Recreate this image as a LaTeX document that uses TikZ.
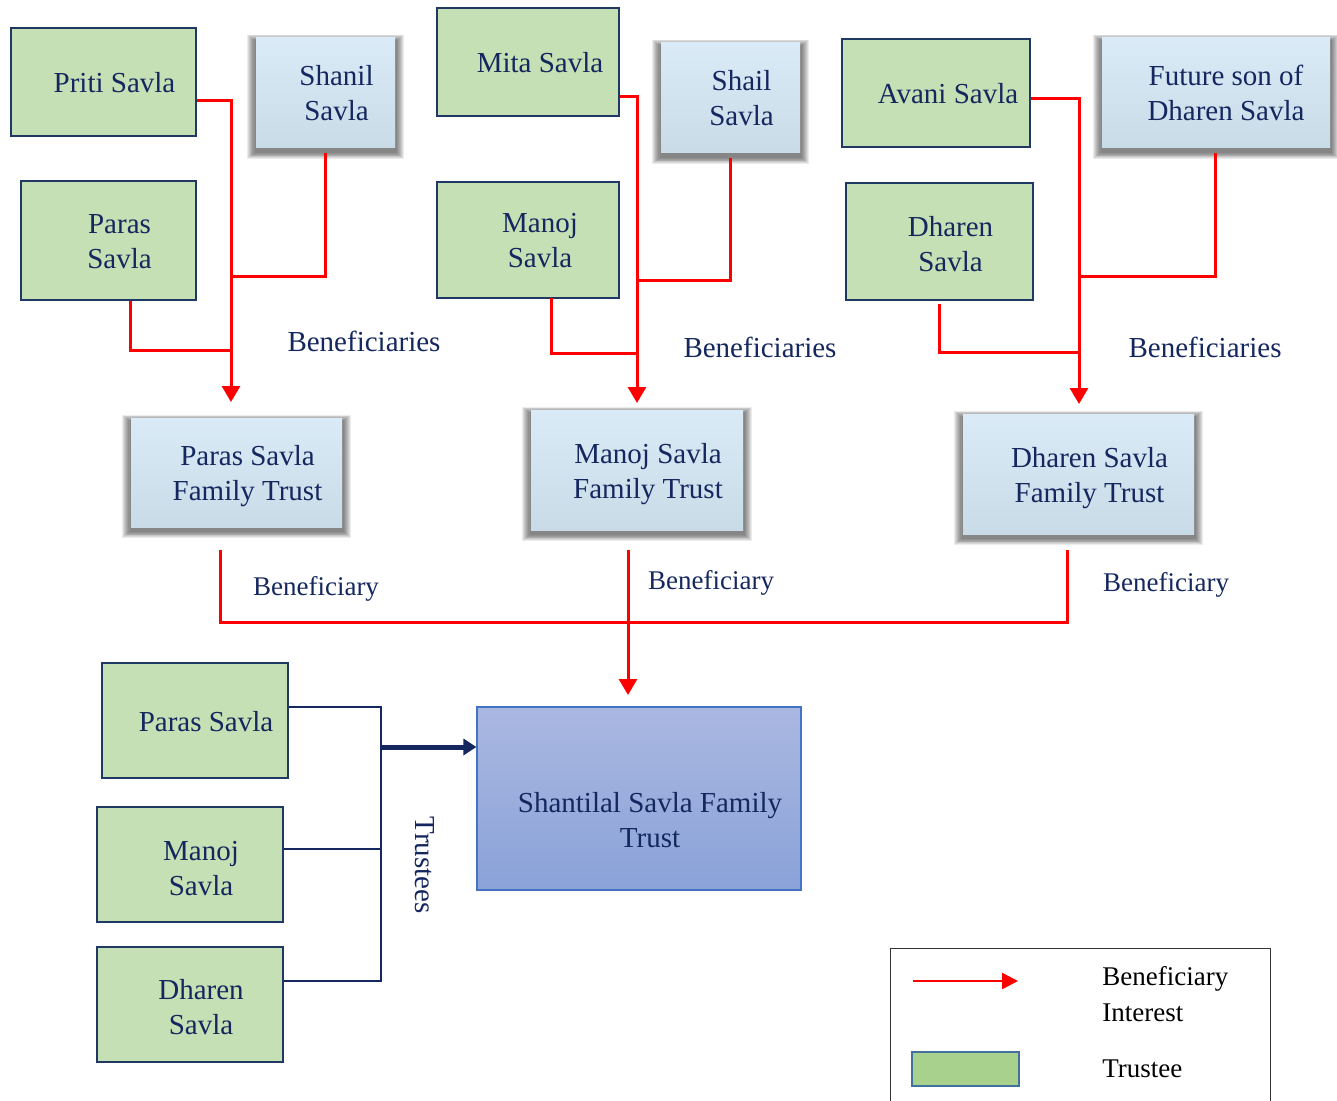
\documentclass[tikz,border=0pt]{standalone}
\usepackage{fontspec}
\setmainfont{Liberation Serif}
\usetikzlibrary{arrows.meta,backgrounds}
\definecolor{gfill}{HTML}{C5E0B4}
\definecolor{gdraw}{HTML}{203864}
\definecolor{btop}{HTML}{DAEBF7}
\definecolor{bbot}{HTML}{C8DBE7}
\definecolor{stop}{HTML}{AAB8E1}
\definecolor{sbot}{HTML}{8AA2D8}
\definecolor{sdraw}{HTML}{4472C4}
\definecolor{navy}{HTML}{14275E}
\definecolor{lfill}{HTML}{A9D18E}
\definecolor{ldraw}{HTML}{41719C}
\newcommand{\boxshade}[1]{%
  \foreach \i in {1,...,8}{%
    \fill[black, opacity=0.08] ([xshift={-\i*0.55pt}, yshift={-(4+\i*0.8)*0.5pt}]#1.south west) rectangle ([xshift={\i*0.55pt}, yshift={(\i*0.8-3.5)*0.5pt}]#1.north east);
  }}
\tikzset{
  gbox/.style={draw=gdraw, line width=0.6pt, fill=gfill, inner sep=0pt},
  bbox/.style={top color=btop, bottom color=bbot, draw=none, inner sep=0pt},
  sbox/.style={top color=stop, bottom color=sbot, draw=sdraw, line width=0.6pt, inner sep=0pt},
  txt/.style={text=navy, font=\fontsize{14.5pt}{17.5pt}\selectfont, align=center, inner sep=0pt},
  lab/.style={text=navy, font=\fontsize{14.5pt}{17.5pt}\selectfont, inner sep=0pt},
  slab/.style={text=navy, font=\fontsize{13.5pt}{17pt}\selectfont, inner sep=0pt},
  legtxt/.style={text=black, font=\fontsize{13.5pt}{18pt}\selectfont, inner sep=0pt, align=left, anchor=west},
  ben/.style={draw=red, line width=1.5pt},
  benarr/.style={ben, -{Triangle[width=9pt,length=8pt]}},
  trl/.style={draw=navy, line width=1.25pt},
  trarr/.style={draw=navy, line width=2.5pt, -{Triangle[width=8pt,length=6.5pt]}}
}
\begin{document}
\begin{tikzpicture}[x=0.5pt,y=-0.5pt]
\useasboundingbox (0,0) rectangle (1337,1101);
% ---------- top row: green boxes
\node[gbox, minimum width=92.5pt, minimum height=54pt] (priti) at (103.5,82) {};
\node[gbox, minimum width=87.5pt, minimum height=59.5pt] (paras1) at (108.5,240.5) {};
\node[gbox, minimum width=91pt, minimum height=54pt] (mita) at (528,62) {};
\node[gbox, minimum width=91pt, minimum height=58pt] (manoj1) at (528,240) {};
\node[gbox, minimum width=94pt, minimum height=54pt] (avani) at (936,93) {};
\node[gbox, minimum width=93.5pt, minimum height=58.5pt] (dharen1) at (939.5,241.5) {};
% ---------- blue boxes
\node[bbox, minimum width=69.5pt, minimum height=55pt] (shanil) at (325.5,93) {};
\node[bbox, minimum width=69.5pt, minimum height=55pt] (shail) at (730.5,98) {};
\node[bbox, minimum width=114pt, minimum height=55pt] (future) at (1216,93) {};
\node[bbox, minimum width=105.5pt, minimum height=54.5pt] (ptrust) at (236.5,472.5) {};
\node[bbox, minimum width=106pt, minimum height=60pt] (mtrust) at (637,470) {};
\node[bbox, minimum width=115.5pt, minimum height=60pt] (dtrust) at (1078.5,474) {};
% ---------- bottom boxes
\node[gbox, minimum width=93pt, minimum height=57.5pt] (paras2) at (195,720.5) {};
\node[gbox, minimum width=93pt, minimum height=57.5pt] (manoj2) at (190,864.5) {};
\node[gbox, minimum width=93pt, minimum height=57.5pt] (dharen2) at (190,1004.5) {};
\node[sbox, minimum width=162pt, minimum height=91.5pt] (shantilal) at (639,798.5) {};
% ---------- shadows
\begin{scope}[on background layer]
  \boxshade{shanil}\boxshade{shail}\boxshade{future}
  \boxshade{ptrust}\boxshade{mtrust}\boxshade{dtrust}
\end{scope}
% ---------- texts
\node[txt] (priti-t) at ([xshift=5.5pt,yshift=-0.5pt]priti.center) {Priti Savla};
\node[txt] (paras1-t) at ([xshift=5.5pt,yshift=-0.5pt]paras1.center) {Paras\\Savla};
\node[txt] (mita-t) at ([xshift=6pt,yshift=-0.5pt]mita.center) {Mita Savla};
\node[txt] (manoj1-t) at ([xshift=6pt,yshift=-0.5pt]manoj1.center) {Manoj\\Savla};
\node[txt] (avani-t) at ([xshift=6pt,yshift=-0.5pt]avani.center) {Avani Savla};
\node[txt] (dharen1-t) at ([xshift=5.5pt,yshift=-1.5pt]dharen1.center) {Dharen\\Savla};
\node[txt] (shanil-t) at ([xshift=5.5pt]shanil.center) {Shanil\\Savla};
\node[txt] (shail-t) at ([xshift=5.5pt,yshift=0pt]shail.center) {Shail\\Savla};
\node[txt] (future-t) at ([xshift=5pt,yshift=0pt]future.center) {Future son of\\Dharen Savla};
\node[txt] (ptrust-t) at ([xshift=5.5pt,yshift=-2pt]ptrust.center) {Paras Savla\\Family Trust};
\node[txt] (mtrust-t) at ([xshift=5.5pt,yshift=-2pt]mtrust.center) {Manoj Savla\\Family Trust};
\node[txt] (dtrust-t) at ([xshift=5.5pt,yshift=-2pt]dtrust.center) {Dharen Savla\\Family Trust};
\node[txt] (paras2-t) at ([xshift=5.5pt,yshift=-0.5pt]paras2.center) {Paras Savla};
\node[txt] (manoj2-t) at ([xshift=5.5pt,yshift=-2pt]manoj2.center) {Manoj\\Savla};
\node[txt] (dharen2-t) at ([xshift=5.5pt,yshift=-1.5pt]dharen2.center) {Dharen\\Savla};
\node[txt] (shantilal-t) at ([xshift=5.5pt,yshift=-10.75pt]shantilal.center) {Shantilal Savla Family\\Trust};
% ---------- labels
\node[lab] (lb1) at (364,341) {Beneficiaries};
\node[lab] (lb2) at (760,347) {Beneficiaries};
\node[lab] (lb3) at (1205,347) {Beneficiaries};
\node[slab] (lb4) at (316,589) {Beneficiary};
\node[slab] (lb5) at (711,583) {Beneficiary};
\node[slab] (lb6) at (1166,585) {Beneficiary};
\node[lab, rotate=-90] (lb7) at (425,865) {Trustees};
% ---------- junction coordinates
\coordinate (paIn) at (231,402);
\coordinate (paJ1) at (231,277);
\coordinate (paJ2) at (231,351);
\coordinate (maIn) at (637,403);
\coordinate (maJ1) at (637,281);
\coordinate (maJ2) at (637,354);
\coordinate (daIn) at (1079,404);
\coordinate (daJ1) at (1079,277);
\coordinate (daJ2) at (1079,353);
\coordinate (sIn) at (628,695);
\coordinate (sJ) at (628,622);
\coordinate (tJ) at (381,747);
% ---------- red connectors: left group
\draw[benarr] ([yshift=-9.5pt]priti.east) -| (paIn);
\draw[ben] ([yshift=-2.5pt]shanil.south) |- (paJ1);
\draw[ben] ([xshift=10.75pt]paras1.south) |- (paJ2);
% middle group
\draw[benarr] ([yshift=-17.5pt]mita.east) -| (maIn);
\draw[ben] ([yshift=-2.5pt]shail.south) |- (maJ1);
\draw[ben] ([xshift=11.5pt,yshift=0.5pt]manoj1.south) |- (maJ2);
% right group
\draw[benarr] ([yshift=-3pt]avani.east) -| (daIn);
\draw[ben] ([xshift=-0.5pt,yshift=-2.5pt]future.south) |- (daJ1);
\draw[ben] ([yshift=-1.5pt]dharen1.south) |- (daJ2);
% trusts to Shantilal
\draw[ben] ([xshift=-8.25pt,yshift=-11.5pt]ptrust.south) |- (sJ);
\draw[ben] ([xshift=-5.75pt,yshift=-8pt]dtrust.south) |- (sJ);
\draw[benarr] ([xshift=-4.5pt,yshift=-10pt]mtrust.south) -- (sIn);
% ---------- trustees connectors
\draw[trl] ([yshift=6.75pt]paras2.east) -| (tJ);
\draw[trl] ([yshift=7.75pt]manoj2.east) -| (tJ);
\draw[trl] ([yshift=11.75pt]dharen2.east) -| (tJ);
\draw[trarr] (tJ) -- (tJ -| shantilal.west);
% ---------- legend
\node[draw=black!80, line width=0.5pt, minimum width=190pt, minimum height=85pt, inner sep=0pt, anchor=north west] (legend) at (890,948) {};
\coordinate (legA) at (913,981);
\coordinate (legB) at (1018,981);
\draw[ben, line width=1.3pt, -{Triangle[width=8pt,length=8pt]}] (legA) -- (legB);
\node[draw=ldraw, line width=1.2pt, fill=lfill, minimum width=53.5pt, minimum height=17pt, inner sep=0pt] (legG) at (965.5,1069) {};
\node[legtxt] (legT1) at (1102,994) {Beneficiary\\Interest};
\node[legtxt] (legT2) at (1102,1069) {Trustee};
\end{tikzpicture}
\end{document}
